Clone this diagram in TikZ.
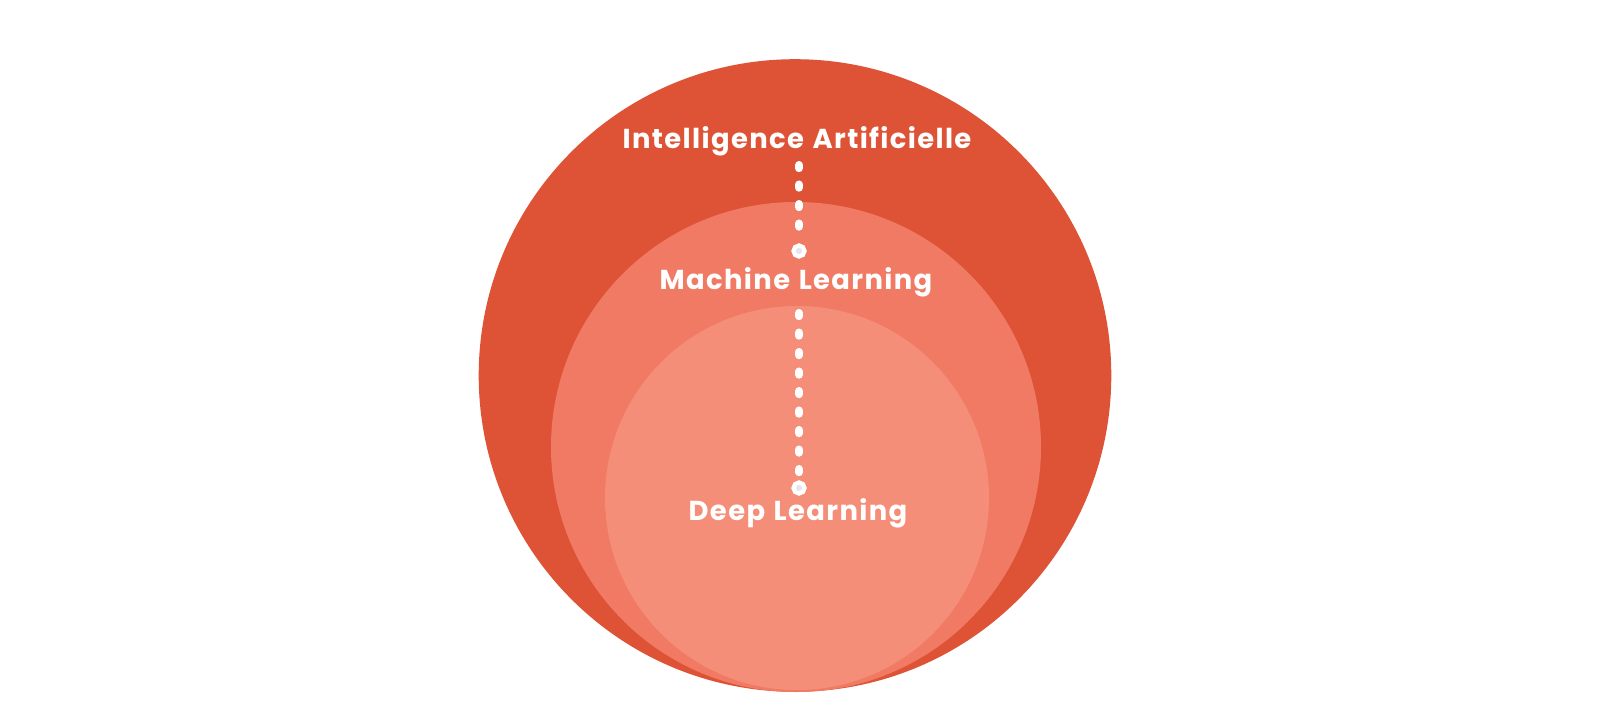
\documentclass[tikz,border=0pt]{standalone}
\usepackage{fontspec}
\setmainfont{Poppins}[LetterSpace=5, WordSpace=1.2]
\definecolor{aired}{HTML}{DE5236}
\definecolor{mlred}{HTML}{F07A63}
\definecolor{dlred}{HTML}{F58E78}
\definecolor{tipgrey}{HTML}{E4E6EC}
\tikzset{
  fieldlabel/.style={text=white, font=\bfseries\fontsize{15.6}{18}\selectfont, inner sep=1pt},
  dotline/.style={white, line width=4.6pt, line cap=round, dash pattern=on 1.8pt off 9.3pt},
  tip/.style={circle, draw=white, line width=2.4pt, fill=tipgrey, minimum size=6.3pt, inner sep=0pt}
}
\begin{document}
\begin{tikzpicture}[x=0.02cm, y=-0.02cm]
    \fill[white] (0,0) rectangle (1600,720);
    \useasboundingbox (0,0) rectangle (1600,720);
    % nested circles
    \fill[aired] (795,375.5) circle (316.3);
    \fill[mlred] (796,447) circle (245);
    \fill[dlred] (797,498) circle (192);
    % labels
    \node[fieldlabel] (ai) at (797,141) {Intelligence Artificielle};
    \node[fieldlabel] (ml) at (796,282) {Machine Learning};
    \node[fieldlabel] (dl) at (798,513) {Deep Learning};
    % dotted connectors
    \coordinate (aistart) at (799,165);
    \coordinate (mltip) at (799,251);
    \coordinate (mlstart) at (799,313);
    \coordinate (dltip) at (799,488);
    \draw[dotline, shorten >=9pt] (aistart) -- (mltip);
    \draw[dotline, shorten >=8pt] (mlstart) -- (dltip);
    \node[tip] at (mltip) {};
    \node[tip] at (dltip) {};
\end{tikzpicture}
\end{document}
